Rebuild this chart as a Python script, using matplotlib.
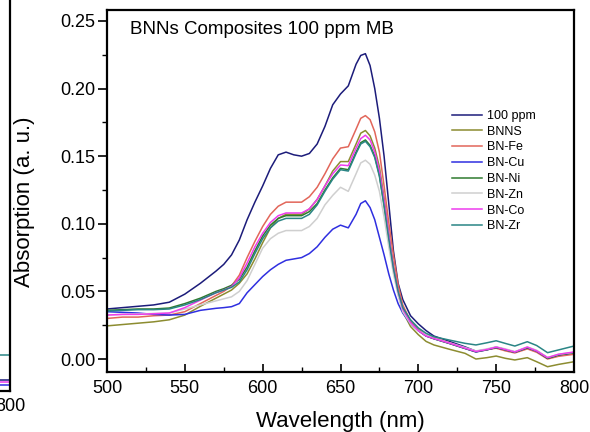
import matplotlib
matplotlib.use("Agg")
import matplotlib.pyplot as plt
from matplotlib.ticker import MultipleLocator, FormatStrFormatter

plt.rcParams['font.family'] = ['Liberation Sans', 'DejaVu Sans']

wavelength = [500, 510, 520, 530, 540, 550, 560, 570, 575, 580, 585, 590, 595, 600,
              605, 610, 615, 620, 625, 630, 635, 640, 645, 650, 655, 660, 663, 666,
              669, 672, 675, 678, 681, 684, 687, 690, 695, 700, 705, 710, 720, 730,
              737, 744, 750, 756, 762, 770, 776, 783, 790, 800]

ppm100 = [0.037, 0.038, 0.039, 0.040, 0.042, 0.048, 0.056, 0.065, 0.070, 0.077, 0.088,
          0.103, 0.116, 0.128, 0.141, 0.151, 0.153, 0.151, 0.150, 0.152, 0.159, 0.172,
          0.188, 0.196, 0.202, 0.218, 0.2245, 0.2258, 0.217, 0.200, 0.178, 0.150,
          0.115, 0.080, 0.056, 0.044, 0.032, 0.026, 0.021, 0.017, 0.013, 0.009,
          0.0058, 0.007, 0.0088, 0.007, 0.0052, 0.0085, 0.006, 0.0008, 0.003, 0.0045]
bnns = [0.0245, 0.0255, 0.0265, 0.0275, 0.029, 0.0325, 0.039, 0.045, 0.048, 0.051,
        0.056, 0.063, 0.074, 0.086, 0.097, 0.104, 0.107, 0.107, 0.107, 0.111, 0.118,
        0.128, 0.139, 0.146, 0.146, 0.159, 0.167, 0.169, 0.165, 0.156, 0.142, 0.119,
        0.093, 0.069, 0.049, 0.035, 0.024, 0.018, 0.013, 0.0104, 0.0072, 0.0042,
        0.000, 0.001, 0.0022, 0.0005, -0.0007, 0.001, -0.002, -0.0057, -0.004, -0.002]
bn_fe = [0.030, 0.031, 0.031, 0.032, 0.0325, 0.035, 0.041, 0.047, 0.050, 0.054, 0.062,
         0.075, 0.087, 0.098, 0.107, 0.113, 0.116, 0.116, 0.116, 0.120, 0.127, 0.137,
         0.148, 0.156, 0.157, 0.170, 0.178, 0.180, 0.177, 0.168, 0.153, 0.128, 0.101,
         0.077, 0.055, 0.040, 0.028, 0.022, 0.018, 0.016, 0.012, 0.008, 0.0055, 0.007,
         0.008, 0.006, 0.0045, 0.0075, 0.005, 0.000, 0.002, 0.0035]
bn_cu = [0.035, 0.0345, 0.034, 0.033, 0.0325, 0.033, 0.036, 0.0375, 0.038, 0.0387,
         0.041, 0.049, 0.055, 0.061, 0.066, 0.070, 0.073, 0.074, 0.075, 0.078, 0.083,
         0.090, 0.096, 0.099, 0.097, 0.107, 0.115, 0.117, 0.112, 0.103, 0.090, 0.077,
         0.063, 0.051, 0.041, 0.034, 0.026, 0.021, 0.017, 0.015, 0.0115, 0.0078,
         0.0052, 0.0068, 0.0085, 0.0068, 0.005, 0.0083, 0.0058, 0.0005, 0.003, 0.0047]
bn_ni = [0.036, 0.0365, 0.037, 0.037, 0.0377, 0.041, 0.045, 0.050, 0.052, 0.0545,
         0.059, 0.068, 0.080, 0.091, 0.099, 0.104, 0.106, 0.106, 0.106, 0.109, 0.115,
         0.125, 0.134, 0.141, 0.140, 0.153, 0.160, 0.162, 0.158, 0.150, 0.136, 0.114,
         0.090, 0.067, 0.049, 0.037, 0.027, 0.021, 0.017, 0.015, 0.0115, 0.0078,
         0.0054, 0.0068, 0.0085, 0.0068, 0.005, 0.0084, 0.006, 0.0005, 0.003, 0.0047]
bn_zn = [0.0325, 0.033, 0.0333, 0.0337, 0.034, 0.037, 0.040, 0.043, 0.0445, 0.046,
         0.050, 0.058, 0.070, 0.082, 0.089, 0.093, 0.095, 0.095, 0.095, 0.098, 0.104,
         0.114, 0.121, 0.127, 0.124, 0.137, 0.145, 0.147, 0.144, 0.136, 0.124, 0.105,
         0.083, 0.063, 0.047, 0.035, 0.026, 0.021, 0.018, 0.0155, 0.012, 0.0085,
         0.006, 0.0075, 0.009, 0.0075, 0.0055, 0.009, 0.0065, 0.0012, 0.0035, 0.005]
bn_co = [0.0325, 0.033, 0.033, 0.0335, 0.034, 0.038, 0.0436, 0.049, 0.051, 0.0535,
         0.060, 0.071, 0.083, 0.093, 0.101, 0.106, 0.108, 0.108, 0.108, 0.111, 0.118,
         0.128, 0.137, 0.1435, 0.143, 0.156, 0.163, 0.1655, 0.162, 0.153, 0.139,
         0.117, 0.092, 0.068, 0.050, 0.037, 0.027, 0.021, 0.017, 0.0152, 0.0118,
         0.008, 0.0056, 0.007, 0.0088, 0.007, 0.0052, 0.0088, 0.006, 0.001, 0.0035,
         0.0052]
bn_zr = [0.0355, 0.036, 0.0365, 0.0365, 0.037, 0.040, 0.044, 0.049, 0.051, 0.053,
         0.057, 0.066, 0.078, 0.089, 0.097, 0.102, 0.104, 0.104, 0.104, 0.107, 0.114,
         0.124, 0.133, 0.140, 0.139, 0.152, 0.159, 0.161, 0.157, 0.149, 0.135, 0.113,
         0.089, 0.067, 0.050, 0.038, 0.029, 0.023, 0.019, 0.0165, 0.014, 0.0116,
         0.0104, 0.012, 0.0135, 0.0115, 0.0096, 0.0128, 0.010, 0.0047, 0.0067, 0.0096]

labels = ['100 ppm', 'BNNS', 'BN-Fe', 'BN-Cu', 'BN-Ni', 'BN-Zn', 'BN-Co', 'BN-Zr']
series = [ppm100, bnns, bn_fe, bn_cu, bn_ni, bn_zn, bn_co, bn_zr]
colors = ['#1c1c7a', '#8c8c30', '#e2665a', '#2f2fe0', '#2f7a2f', '#cfcfcf', '#ee3cee', '#2a8585']

# partial neighbouring panel (only its right edge is visible)
left_wl = [700, 800]
left_teal = [0.091, 0.091]
left_magenta = [0.022, 0.022]
left_navy = [0.028, 0.028]
left_blue = [0.016, 0.016]
left_series = [left_teal, left_magenta, left_navy, left_blue]
left_colors = ['#2a8585', '#ee3cee', '#1c1c7a', '#2f2fe0']
left_ticks = [800]

fig = plt.figure(figsize=(5.9, 4.32), dpi=100)

W, H = 590.0, 432.0
ax0 = fig.add_axes([-200 / W, (H - 391) / H, 210 / W, 396 / H])
for vals, c in zip(left_series, left_colors):
    ax0.plot(left_wl, vals, color=c, lw=1.1)
ax0.set_xlim(200, 800)
ax0.set_ylim(0, 1)
ax0.set_xticks(left_ticks)
ax0.set_yticks([])
ax0.tick_params(axis='x', direction='in', length=6, width=1.2, labelsize=13, pad=5)
for s in ax0.spines.values():
    s.set_linewidth(1.6)

ax = fig.add_axes([107 / W, (H - 372) / H, 467 / W, 362 / H])
for vals, lab, c in zip(series, labels, colors):
    ax.plot(wavelength, vals, color=c, lw=1.1, label=lab)

ax.set_xlim(500, 800)
ax.set_ylim(-0.0096, 0.2581)
ax.xaxis.set_major_locator(MultipleLocator(50))
ax.xaxis.set_minor_locator(MultipleLocator(25))
ax.yaxis.set_major_locator(MultipleLocator(0.05))
ax.yaxis.set_minor_locator(MultipleLocator(0.025))
ax.yaxis.set_major_formatter(FormatStrFormatter('%.2f'))
ax.tick_params(axis='x', which='major', direction='in', length=6, width=1.2,
               labelsize=13, pad=6, top=False)
ax.tick_params(axis='x', which='minor', direction='in', length=3.5, width=1.0, top=False)
ax.tick_params(axis='y', which='major', direction='out', length=6.5, width=1.2,
               labelsize=13, pad=2, right=False)
ax.tick_params(axis='y', which='minor', direction='out', length=3.5, width=1.0, right=False)
for s in ax.spines.values():
    s.set_linewidth(1.6)

ax.set_xlabel('Wavelength (nm)', fontsize=16)
ax.set_ylabel('Absorption (a. u.)', fontsize=16)
ax.xaxis.set_label_coords(0.5, (372 - 411) / 362.0)
ax.yaxis.set_label_coords((35 - 107) / 467.0, (372 - 202) / 362.0)
ax.text(23 / 467.0, (372 - 29) / 362.0, 'BNNs Composites 100 ppm MB',
        transform=ax.transAxes, fontsize=13.5, ha='left', va='center')

leg = ax.legend(loc='upper left', bbox_to_anchor=((447 - 107) / 467.0, (372 - 105) / 362.0),
                frameon=False, fontsize=9, handlelength=2.4, handletextpad=0.4,
                labelspacing=0.3, borderaxespad=0)

fig.savefig('out.png', dpi=100)
